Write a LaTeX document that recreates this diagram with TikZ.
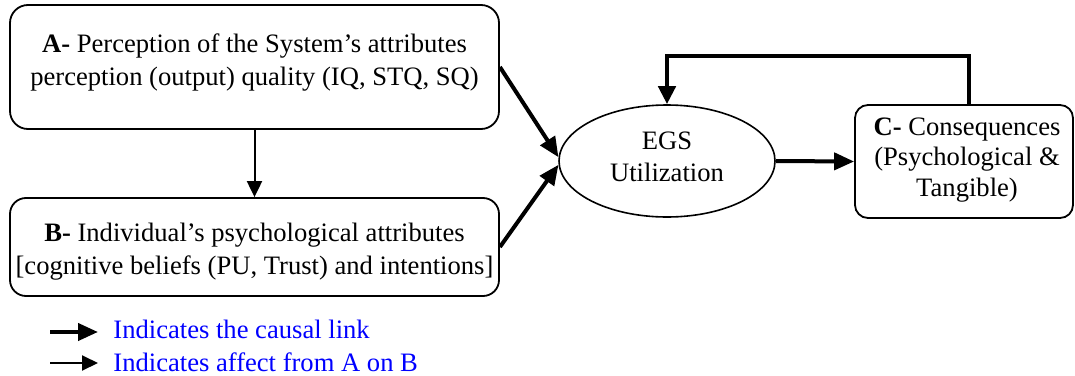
\documentclass[tikz,border=0pt]{standalone}
\usepackage{fontspec}
\setmainfont{Liberation Serif}
\usetikzlibrary{arrows.meta,shapes.geometric}
\definecolor{legendblue}{RGB}{0,0,255}
\begin{document}
\begin{tikzpicture}[x=0.5pt,y=-0.5pt,
  every node/.style={font=\fontsize{13.3pt}{16.5pt}\selectfont},
  box/.style={draw,line width=0.9pt,inner sep=0pt},
  txt/.style={inner sep=0pt,align=center},
  causal/.style={line width=2pt,-{Triangle[length=10pt,width=8.5pt]}},
  affect/.style={line width=1pt,-{Triangle[length=8pt,width=7.5pt]}},
  legtxt/.style={inner sep=0pt,anchor=base west,text=legendblue}]
\useasboundingbox (0,0) rectangle (1075,375);
% boxes
\node[box,rounded corners=9pt,minimum width=244.5pt,minimum height=62pt] (A) at (254.5,67) {};
\node[box,rounded corners=8pt,minimum width=244.5pt,minimum height=49pt] (B) at (254.5,247) {};
\node[box,ellipse,line width=0.8pt,minimum width=108pt,minimum height=56pt] (E) at (667,161) {};
\node[box,rounded corners=6.5pt,minimum width=109pt,minimum height=56.5pt] (C) at (964,161.5) {};
% texts
\node[txt] (tA) at (254.5,63) {\textbf{A-} Perception of the System’s attributes\\perception (output) quality (IQ, STQ, SQ)};
\node[txt] (tB) at (254.5,252) {\textbf{B-} Individual’s psychological attributes\\{}[cognitive beliefs (PU, Trust) and intentions]};
\node[txt,font=\fontsize{13.3pt}{16pt}\selectfont] (tE) at (667,157) {EGS\\Utilization};
\node[txt,font=\fontsize{13.3pt}{15.2pt}\selectfont] (tC) at (967,160) {\textbf{C-} Consequences\\(Psychological \&\\Tangible)};
% connectors
\draw[affect] (A.south) -- (B.north);
\draw[causal] (A.east) -- (E.178);
\draw[causal] (B.east) -- (E.182);
\draw[causal] (E.east) -- (C.west);
\coordinate (fb) at (969,56);
\draw[line width=2.2pt,-{Triangle[length=9pt,width=8.5pt]}] (C.north -| fb) -- (fb) -| (E.north);
% legend
\coordinate (l1s) at (50,332);
\coordinate (l1e) at (98,332);
\coordinate (l2s) at (50,363);
\coordinate (l2e) at (98,363);
\draw[causal] (l1s) -- (l1e);
\draw[affect] (l2s) -- (l2e);
\node[legtxt] (lg1) at (113,338.5) {Indicates the causal link};
\node[legtxt] (lg2) at (113,371) {Indicates affect from A on B};
\end{tikzpicture}
\end{document}
